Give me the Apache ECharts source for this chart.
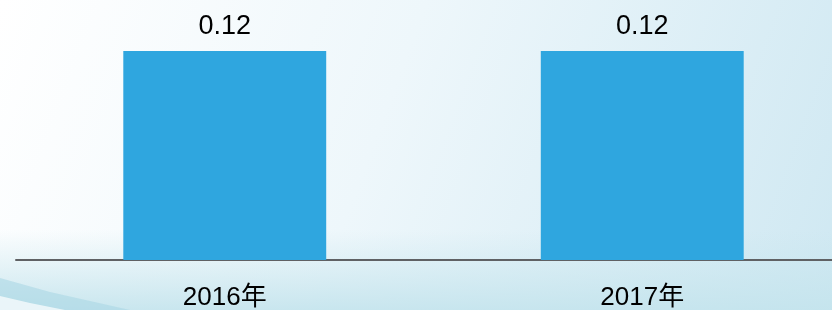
<!DOCTYPE html>
<html>
<head>
<meta charset="utf-8">
<script src="https://cdn.jsdelivr.net/npm/echarts@6/dist/echarts.min.js"></script>
<style>
  html, body { margin: 0; padding: 0; }
  #chart { width: 832px; height: 310px; }
</style>
</head>
<body>
<div id="chart"></div>
<script>
// 年份
const years = ["2016年", "2017年"];
// 数值
const values = [0.12, 0.12];

const myChart = echarts.init(document.getElementById("chart"));

const option = {
  backgroundColor: {
    type: "linear",
    x: 0, y: 0, x2: 1, y2: 1,
    colorStops: [
      { offset: 0, color: "#ffffff" },
      { offset: 0.45, color: "#eef7fb" },
      { offset: 1, color: "#cfe8f2" }
    ]
  },
  graphic: [
    {
      // 底部淡青色
      type: "rect",
      silent: true,
      z: -10,
      shape: { x: 0, y: 230, width: 832, height: 80 },
      style: {
        fill: {
          type: "linear",
          x: 0, y: 0, x2: 0, y2: 1,
          colorStops: [
            { offset: 0, color: "rgba(200,230,238,0)" },
            { offset: 1, color: "rgba(196,228,237,0.9)" }
          ]
        }
      }
    },
    {
      // 左下角波浪
      type: "polygon",
      silent: true,
      z: -9,
      shape: { points: [[0, 278], [50, 292], [130, 310], [0, 310]] },
      style: { fill: "rgba(170,215,228,0.6)" }
    },
    {
      type: "polygon",
      silent: true,
      z: -9,
      shape: { points: [[0, 296], [30, 303], [65, 310], [0, 310]] },
      style: { fill: "rgba(255,255,255,0.7)" }
    }
  ],
  grid: {
    left: 16,
    right: -19,
    top: 51,
    bottom: 50,
    outerBoundsMode: "none",
    containLabel: false
  },
  xAxis: {
    type: "category",
    data: years,
    axisLine: { lineStyle: { color: "#5f6164", width: 2 } },
    axisTick: { show: false },
    axisLabel: {
      color: "#000",
      fontSize: 26,
      fontFamily: "Liberation Sans, Noto Sans CJK SC",
      margin: 25
    }
  },
  yAxis: {
    type: "value",
    min: 0,
    max: 0.12,
    show: false,
    splitLine: { show: false }
  },
  series: [
    {
      type: "bar",
      data: values,
      barWidth: "48.6%",
      itemStyle: { color: "#2fa6df" },
      label: {
        show: true,
        position: "top",
        distance: 11,
        color: "#000",
        fontSize: 27,
        fontFamily: "Liberation Sans"
      }
    }
  ]
};

myChart.setOption(option);
</script>
</body>
</html>
